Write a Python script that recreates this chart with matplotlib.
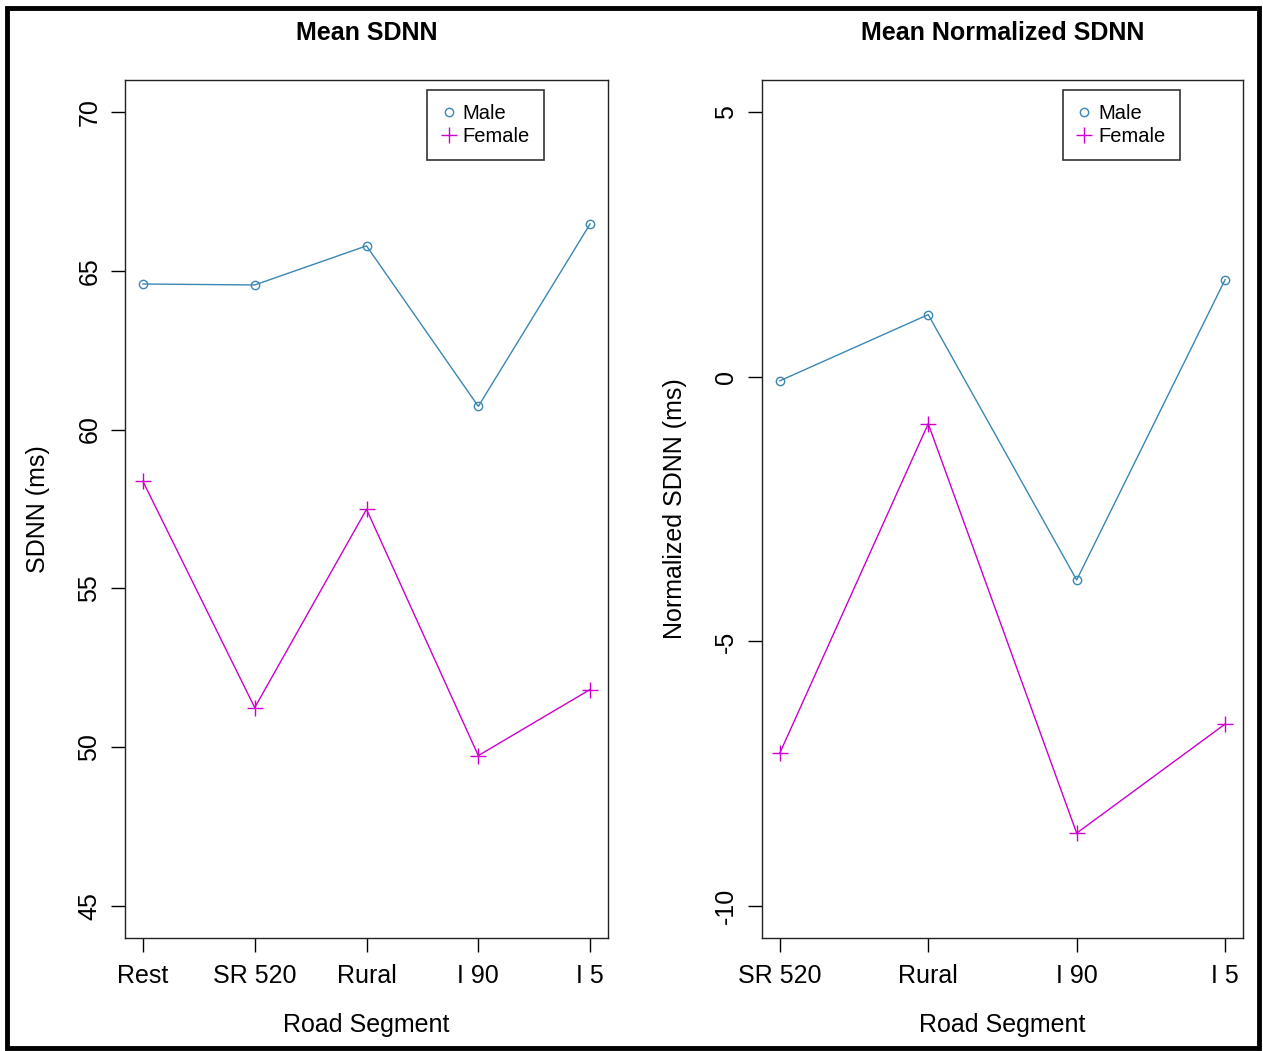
import matplotlib
matplotlib.use('Agg')
import matplotlib.pyplot as plt
from matplotlib.patches import Rectangle

plt.rcParams['font.family'] = ['Liberation Sans', 'DejaVu Sans']

MALE_COLOR = '#3a87b5'
FEMALE_COLOR = '#cc00cc'

# left panel: mean SDNN per road segment
segments_left = ['Rest', 'SR 520', 'Rural', 'I 90', 'I 5']
male_sdnn = [64.58, 64.55, 65.78, 60.73, 66.47]
female_sdnn = [58.37, 51.25, 57.49, 49.74, 51.82]

# right panel: normalized SDNN (relative to rest)
segments_right = ['SR 520', 'Rural', 'I 90', 'I 5']
male_norm = [-0.08, 1.17, -3.84, 1.83]
female_norm = [-7.11, -0.89, -8.62, -6.56]

left_yticks = [45, 50, 55, 60, 65, 70]
right_yticks = [-10, -5, 0, 5]


def r_style_panel(ax, labels, male, female, ylim, yticks, title, ylabel):
    x = list(range(1, len(labels) + 1))
    ax.plot(x, male, color=MALE_COLOR, lw=1.0, marker='o', ms=6,
            mfc='none', mec=MALE_COLOR, mew=1.0, label='Male')
    ax.plot(x, female, color=FEMALE_COLOR, lw=1.0, marker='+', ms=12,
            mew=1.0, label='Female')

    # R default: 4% padding on each side
    pad_x = 0.04 * (x[-1] - x[0])
    ax.set_xlim(x[0] - pad_x, x[-1] + pad_x)
    pad_y = 0.04 * (ylim[1] - ylim[0])
    ax.set_ylim(ylim[0] - pad_y, ylim[1] + pad_y)

    ax.set_xticks(x)
    ax.set_xticklabels(labels)
    ax.set_yticks(yticks)
    ax.set_yticklabels([str(t) for t in yticks], rotation=90, va='center')
    ax.tick_params(axis='both', direction='out', length=10, width=1.0,
                   labelsize=18, colors='black')
    ax.tick_params(axis='x', pad=9)
    ax.tick_params(axis='y', pad=7)
    for sp in ax.spines.values():
        sp.set_linewidth(1.0)
        sp.set_color('#222222')

    ax.set_title(title, fontsize=18, fontweight='bold', pad=29)
    ax.set_xlabel('Road Segment', fontsize=18)
    ax.xaxis.set_label_coords(0.5, -0.101)
    ax.xaxis.label.set_va('center')
    ax.set_ylabel(ylabel, fontsize=18)
    ax.yaxis.label.set_va('center')

    leg = ax.legend(loc='upper left', bbox_to_anchor=(0.626, 0.988),
                    fontsize=14.5, frameon=True, fancybox=False,
                    borderpad=0.7, labelspacing=0.2, handlelength=0.7,
                    handletextpad=0.35, borderaxespad=0.0)
    leg.get_frame().set_edgecolor('black')
    leg.get_frame().set_linewidth(1.2)
    for h in leg.legend_handles:
        h.set_linestyle('none')
    return ax


fig = plt.figure(figsize=(12.63, 10.51), dpi=100)
ax1 = fig.add_axes([0.099, 0.1075, 0.3824, 0.8164])
ax2 = fig.add_axes([0.6033, 0.1075, 0.3808, 0.8164])

r_style_panel(ax1, segments_left, male_sdnn, female_sdnn, (45, 70),
              left_yticks, 'Mean SDNN', 'SDNN (ms)')
ax1.yaxis.set_label_coords(-(125 - 38) / 483, 0.5)

r_style_panel(ax2, segments_right, male_norm, female_norm, (-10, 5),
              right_yticks, 'Mean Normalized SDNN', 'Normalized SDNN (ms)')
ax2.yaxis.set_label_coords(-(762 - 675) / 481, 0.5)

# thick frame around the whole image
fig.patches.append(Rectangle((0.0055, 0.003), 0.9913, 0.9895,
                             transform=fig.transFigure, fill=False,
                             edgecolor='black', linewidth=3.5))

fig.savefig('out.png', dpi=100)
